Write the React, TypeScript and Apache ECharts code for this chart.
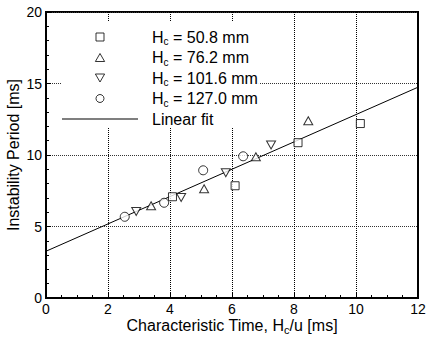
import React, { useEffect, useRef } from "react";
import * as echarts from "echarts";

const seriesNames = ["H = 50.8 mm", "H = 76.2 mm", "H = 101.6 mm", "H = 127.0 mm", "Linear fit"];
const legendLabels = [
  "{h|H}{s|c}{m| = 50.8 mm}",
  "{h|H}{s|c}{m| = 76.2 mm}",
  "{h|H}{s|c}{m| = 101.6 mm}",
  "{h|H}{s|c}{m| = 127.0 mm}",
  "{h|Linear fit}",
];
const hc508: number[][] = [[4.08, 7.08], [6.1, 7.85], [8.13, 10.86], [10.14, 12.2]];
const hc762: number[][] = [[3.39, 6.45], [5.1, 7.64], [6.77, 9.88], [8.46, 12.4]];
const hc1016: number[][] = [[2.91, 6.05], [4.36, 7.03], [5.8, 8.76], [7.26, 10.7]];
const hc1270: number[][] = [[2.54, 5.68], [3.81, 6.66], [5.07, 8.93], [6.36, 9.91]];
const linearFit: number[][] = [[0, 3.27], [12, 14.74]];
const xTicks = [0, 12, 2];
const yTicks = [0, 20, 5];

const FONT = "Liberation Sans";
const sqPath = "path://M0,0 L10,0 L10,10 L0,10 Z";
const triPath = "path://M5,0 L10,8.66 L0,8.66 Z";
const invTri = "path://M0,0 L10,0 L5,8.66 Z";
const linePath = "path://M0,0 L200,0 L200,2 L0,2 Z";

export default function App() {
  const ref = useRef<HTMLDivElement>(null);
  useEffect(() => {
    if (!ref.current) return;
    const chart = echarts.init(ref.current, null, { renderer: "svg" });
    const sym = (name: string, data: number[][], symbol: string, size: number | number[]) => ({
      name,
      type: "scatter",
      data,
      symbol,
      symbolSize: size,
      itemStyle: { color: "#fff", borderColor: "#000", borderWidth: 1 },
      z: 3,
    });
    const rich = {
      h: { fontFamily: FONT, fontSize: 16, color: "#000", padding: [0, 0, 0, 9] },
      m: { fontFamily: FONT, fontSize: 16, color: "#000" },
      s: { fontFamily: FONT, fontSize: 10, color: "#000", padding: [9, 0, 0, 0] },
    };
    const icons = [sqPath, triPath, invTri, "circle"];
    chart.setOption({
      animation: false,
      backgroundColor: "#fff",
      grid: {
        left: 46, right: 10, top: 12, bottom: 39,
        show: true, borderColor: "#000", borderWidth: 2,
        containLabel: false, outerBoundsMode: "none",
      },
      legend: {
        orient: "vertical",
        left: 61,
        top: 21,
        padding: [8, 1, 1, 1],
        backgroundColor: "#fff",
        itemWidth: 76,
        itemHeight: 8,
        itemGap: 3,
        symbolKeepAspect: true,
        data: seriesNames.map((n, i) =>
          i < 4
            ? { name: n, icon: icons[i], itemStyle: { color: "#fff", borderColor: "#000", borderWidth: 1 } }
            : { name: n, icon: linePath, itemStyle: { color: "#000", borderWidth: 0 } }
        ),
        formatter: (n: string) => legendLabels[seriesNames.indexOf(n)],
        textStyle: { fontFamily: FONT, fontSize: 16, color: "#000", rich },
      },
      xAxis: {
        type: "value",
        min: xTicks[0],
        max: xTicks[1],
        interval: xTicks[2],
        name: "Characteristic Time, {m|H}{s|c}{m|/u [ms]}",
        nameLocation: "middle",
        nameGap: 18,
        nameMoveOverlap: false,
        nameTextStyle: {
          fontFamily: FONT,
          fontSize: 16,
          color: "#000",
          rich: {
            m: { fontFamily: FONT, fontSize: 16, color: "#000" },
            s: { fontFamily: FONT, fontSize: 11, color: "#000", padding: [8, 0, 0, 0] },
          },
        },
        axisLine: { lineStyle: { color: "#000", width: 2 } },
        axisTick: { inside: true, length: 5, lineStyle: { color: "#000" } },
        minorTick: { show: true, splitNumber: 4, length: 3, lineStyle: { color: "#000" } },
        axisLabel: { fontFamily: FONT, fontSize: 14, color: "#000", margin: 4 },
        splitLine: { show: true, lineStyle: { color: "#000", type: [1, 1], width: 1 } },
      },
      yAxis: {
        type: "value",
        min: yTicks[0],
        max: yTicks[1],
        interval: yTicks[2],
        name: "Instability Period [ms]",
        nameLocation: "middle",
        nameGap: 25,
        nameMoveOverlap: false,
        nameTextStyle: { fontFamily: FONT, fontSize: 16, color: "#000" },
        axisLine: { lineStyle: { color: "#000", width: 2 } },
        axisTick: { inside: true, length: 5, lineStyle: { color: "#000" } },
        minorTick: { show: true, splitNumber: 5, length: 3, lineStyle: { color: "#000" } },
        axisLabel: { fontFamily: FONT, fontSize: 14, color: "#000", margin: 4 },
        splitLine: { show: true, lineStyle: { color: "#333", type: [1, 1], width: 1 } },
      },
      series: [
        sym(seriesNames[0], hc508, "rect", 8),
        sym(seriesNames[1], hc762, "triangle", [9, 8]),
        sym(seriesNames[2], hc1016, invTri, [9, 8]),
        sym(seriesNames[3], hc1270, "circle", 9),
        {
          name: seriesNames[4],
          type: "line",
          data: linearFit,
          symbol: "none",
          showSymbol: false,
          lineStyle: { color: "#000", width: 1 },
          itemStyle: { color: "#000" },
          z: 2,
        },
      ],
    });
    return () => chart.dispose();
  }, []);
  return <div ref={ref} style={{ position: "absolute", left: 0, top: 0, width: 428, height: 337 }} />;
}
